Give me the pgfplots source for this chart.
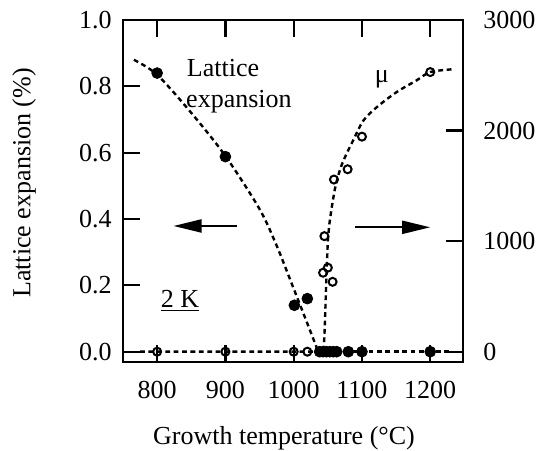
\documentclass[border=0pt]{standalone}
\usepackage{pgfplots}
\pgfplotsset{compat=1.18}
\usepackage{fontspec}
\setmainfont{Liberation Serif}
\usetikzlibrary{arrows.meta}

\begin{document}
\begin{tikzpicture}[font=\fontsize{13}{15}\selectfont]
\useasboundingbox (-61.5pt,-44pt) rectangle (208pt,181pt);
\pgfplotsset{
  mystyle/.style={
    scale only axis, width=170pt, height=171pt,
    at={(0,0)}, anchor=south west,
    xmin=750, xmax=1248,
    axis line style={-, line width=1.1pt},
    major tick style={line width=1.1pt, black},
    major tick length=8.5pt,
    tick align=inside,
    tick label style={font=\fontsize{13}{15}\selectfont},
  },
  dsh/.style={black, line width=1.2pt, dash pattern=on 2.4pt off 1.8pt},
}
\begin{axis}[mystyle, name=ax,
  ymin=-0.0311, ymax=1,
  xtick={800,900,1000,1100,1200},
  xticklabels={800,900,1000,1100,1200},
  xtick pos=both, xticklabel pos=lower,
  ytick={0,0.2,0.4,0.6,0.8,1.0},
  yticklabels={0.0,0.2,0.4,0.6,0.8,1.0},
  ytick pos=left,
  xticklabel style={anchor=base, yshift=-18pt, inner sep=0pt},
  yticklabel style={anchor=east, inner sep=0pt, xshift=-5.5pt},
]
\addplot[dsh, smooth, tension=0.5] coordinates {(766,0.88)(800,0.835)(850,0.72)(900,0.59)(950,0.43)(975,0.32)(1000,0.19)(1020,0.085)(1036,0)};
\addplot[dsh] coordinates {(1036,0)(1228,0)};
\addplot[only marks, mark=*, mark size=2.7pt, black] coordinates {(800,0.84)(900,0.588)(1001,0.14)(1020,0.16)(1038,0)(1043,0)(1048,0)(1053,0)(1058,0)(1063,0)(1080,0)(1100,0)(1200,0)};
\node[anchor=base west, inner sep=0pt] at (axis cs:843,0.831) {Lattice};
\node[anchor=base west, inner sep=0pt] at (axis cs:842,0.735) {expansion};
\node[anchor=base, inner sep=0pt] at (axis cs:1129,0.812) {μ};
\node[anchor=base west, inner sep=0pt] at (axis cs:805,0.134) {\underline{2 K}};
\draw[line width=1pt, -{Triangle[length=14pt,width=6.5pt]}] (axis cs:917,0.379) -- (axis cs:824,0.379);
\draw[line width=1pt, -{Triangle[length=14pt,width=6.5pt]}] (axis cs:1090,0.375) -- (axis cs:1200,0.375);
\end{axis}
\begin{axis}[mystyle,
  ymin=-93.3, ymax=3000,
  axis x line=none, axis y line*=right,
  ytick={0,1000,2000,3000},
  yticklabels={0,1000,2000,3000},
  yticklabel style={anchor=west, inner sep=0pt, xshift=10pt},
]
\addplot[dsh] coordinates {(775,0)(1044,0)(1046,300)(1048,700)(1050,1000)};
\addplot[dsh, smooth, tension=0.5] coordinates {(1050,1000)(1053,1190)(1061,1490)(1071,1700)(1087,1910)(1102,2090)(1122,2213)(1151,2349)(1180,2454)(1200,2529)(1232,2554)};
\addplot[only marks, mark=o, mark size=2pt, line width=1pt, black] coordinates {(800,0)(900,0)(1000,0)(1020,0)(1045,1045)(1050,760)(1043,714)(1057,632)(1059,1557)(1079,1650)(1100,1945)(1200,2529)};
\end{axis}
\node[rotate=90, anchor=center] at ([xshift=-49.5pt, yshift=4pt]ax.west) {Lattice expansion (\%)};
\node[anchor=base] at ([xshift=-4.5pt, yshift=-41pt]ax.south) {Growth temperature (°C)};
\end{tikzpicture}
\end{document}
